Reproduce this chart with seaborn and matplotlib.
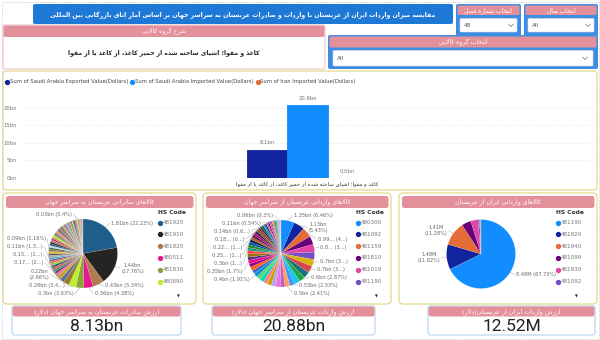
import numpy as np
import pandas as pd
import matplotlib
matplotlib.use("Agg")
import matplotlib.pyplot as plt
import seaborn as sns
from matplotlib.patches import FancyBboxPatch, Rectangle
from matplotlib.lines import Line2D
from matplotlib.ticker import FuncFormatter

# ---------------- data ----------------
title_text = "مقایسه میزان واردات ایران از عربستان با واردات و صادرات عربستان به سراسر جهان بر اساس آمار اتاق بازرگانی بین المللی"
slicer_season_title = "انتخاب شماره فصل"
slicer_season_value = "48"
slicer_year_title = "انتخاب سال"
slicer_year_value = "All"
desc_title = "شرح گروه کالایی"
desc_text = "کاغذ و مقوا؛ اشیای ساخته شده از خمیر کاغذ، از کاغذ یا از مقوا"
group_title = "انتخاب گروه کالایی"
group_value = "All"

bar_category = "کاغذ و مقوا؛ اشیای ساخته شده از خمیر کاغذ، از کاغذ یا از مقوا"
bar_series = ["Sum of Saudi Arabia Exported Value(Dollars)",
              "Sum of Saudi Arabia Imported Value(Dollars)",
              "Sum of Iran Imported Value(Dollars)"]
bar_values_bn = [8.13, 20.88, 0.0125]
bar_colors = ["#12239E", "#118DFF", "#E66C37"]
bar_yticks = [0, 5, 10, 15, 20]

pie1_title = "کالاهای صادراتی عربستان به سراسر جهان"
pie1_values = [1.81, 1.44, 0.43, 0.36, 0.30, 0.28, 0.22, 0.17, 0.15, 0.11,
               0.09, 0.088, 0.087, 0.086, 0.085, 0.084, 0.082, 0.08, 0.08, 0.08,
               0.078, 0.076, 0.075, 0.075, 0.074, 0.07, 0.07, 0.07, 0.065, 0.065,
               0.06, 0.06, 0.06, 0.06, 0.055, 0.055, 0.055, 0.05, 0.05, 0.05,
               0.05, 0.048, 0.046, 0.045, 0.044, 0.042, 0.04, 0.04, 0.038, 0.036,
               0.035, 0.034, 0.033, 0.032, 0.03, 0.028, 0.025, 0.022, 0.02, 0.018,
               0.015, 0.012, 0.01, 0.008, 0.005]
pie1_labels = ["1.81bn (22.23%)", "1.44bn\n(17.76%)", "0.43bn (5.34%)", "0.36bn (4.38%)",
               "0.3bn (3.63%)", "0.28bn (3.4...)", "0.22bn\n(2.66%)", "0.17... (2...)",
               "0.15... (1...)", "0.11bn (1.3...)",
               "0.09bn (1.16%)", "", "", "", "", "", "", "", "", "",
               "", "", "", "", "", "", "", "", "", "",
               "", "", "", "", "", "", "", "", "", "",
               "", "", "", "", "", "", "", "", "", "",
               "", "", "", "", "0.03bn (0.4%)", "", "", "", "", "",
               "", "", "", "", ""]
pie1_codes = ["481920", "481910", "481820", "480511", "481830", "480890"]
pie1_palette = ["#1F5D8C", "#252423", "#B07C4F", "#E6178F", "#8AA33B", "#B9EF2B",
                "#9B7B2F", "#5B6F99", "#C9A227", "#E86FA8", "#6E3B5E", "#3F8F6F",
                "#D9534F", "#2C4F7C", "#A8C545", "#E07B39", "#7D4FA0", "#4FB3BF",
                "#A9A9A9", "#555555", "#F0C419", "#8D6E63", "#3C6E47", "#D1D1D1"]

pie2_title = "کالاهای وارداتی عربستان از سراسر جهان"
pie2_values = [1.35, 1.13, 0.99, 0.85, 0.80, 0.75, 0.70, 0.70, 0.65, 0.60,
               0.55, 0.53, 0.50, 0.48, 0.46, 0.45, 0.44, 0.43, 0.42, 0.41,
               0.40, 0.38, 0.37, 0.36, 0.35, 0.34, 0.33, 0.32, 0.31, 0.30,
               0.29, 0.28, 0.27, 0.26, 0.25, 0.24, 0.23, 0.22, 0.21, 0.20,
               0.19, 0.18, 0.17, 0.16, 0.15, 0.14, 0.13, 0.12, 0.11, 0.10,
               0.09, 0.08, 0.07, 0.06, 0.05, 0.04, 0.03, 0.02, 0.01]
pie2_labels = ["1.35bn (6.46%)", "1.13bn\n(5.43%)", "0.99... (4...)", "", "0.8... (3...)",
               "", "0.7bn (3...)", "0.7bn (3...)", "", "0.6bn (2.87%)",
               "", "0.53bn (2.53%)", "0.5bn (2.41%)", "", "", "", "", "", "", "",
               "0.4bn (1.91%)", "", "", "", "0.35bn (1.7%)", "", "", "", "", "0.3bn (1...)",
               "", "", "", "", "0.25... (1...)", "", "", "0.22... (1...)", "", "",
               "", "0.18... (0...)", "", "", "", "0.14bn (0.6...)", "", "", "0.11bn (0.54%)", "",
               "", "", "", "0.06bn (0.3%)", "", "", "", "", ""]
pie2_codes = ["480300", "481092", "481159", "481810", "481019", "481190"]

pie3_title = "کالاهای وارداتی ایران از عربستان"
pie3_values = [8.48, 1.48, 1.41, 0.55, 0.42, 0.10, 0.05, 0.02, 0.01]
pie3_labels = ["8.48M (67.73%)", "1.48M\n(11.82%)", "1.41M\n(11.28%)", "", "", "", "", "", ""]
pie3_codes = ["481190", "481920", "481940", "481099", "481930", "481092"]

pbi_palette = ["#118DFF", "#12239E", "#E66C37", "#6B007B", "#E044A7", "#744EC2",
               "#D9B300", "#D64550", "#197278", "#1AAB40", "#15C6F4", "#4092FF",
               "#FFA058", "#BE5DC9", "#F472D0", "#B5A1FF", "#C4A200", "#FF8080",
               "#00DBBC", "#5BD667", "#0091D5", "#4668C5", "#FF6300", "#99008A",
               "#EC008C", "#533285", "#99700A", "#FF4141", "#1F9A85", "#25891C",
               "#0057A2", "#002050", "#C94F0F", "#450F54", "#B60064", "#34124F",
               "#6A5A29", "#BA141A", "#0C3D37", "#0B511F"]

kpi_titles = ["ارزش صادرات عربستان به سراسر جهان (دلار)",
              "ارزش واردات عربستان از سراسر جهان (دلار)",
              "ارزش واردات ایران از عربستان(دلار)"]
kpi_values = ["8.13bn", "20.88bn", "12.52M"]

# ---------------- Arabic shaping (contextual forms + RTL order) ----------------
_F = {
    "ء": ("\uFE80", None, None, None),
    "آ": ("\uFE81", "\uFE82", None, None),
    "أ": ("\uFE83", "\uFE84", None, None),
    "ؤ": ("\uFE85", "\uFE86", None, None),
    "إ": ("\uFE87", "\uFE88", None, None),
    "ئ": ("\uFE89", "\uFE8A", "\uFE8B", "\uFE8C"),
    "ا": ("\uFE8D", "\uFE8E", None, None),
    "ب": ("\uFE8F", "\uFE90", "\uFE91", "\uFE92"),
    "ة": ("\uFE93", "\uFE94", None, None),
    "ت": ("\uFE95", "\uFE96", "\uFE97", "\uFE98"),
    "ث": ("\uFE99", "\uFE9A", "\uFE9B", "\uFE9C"),
    "ج": ("\uFE9D", "\uFE9E", "\uFE9F", "\uFEA0"),
    "ح": ("\uFEA1", "\uFEA2", "\uFEA3", "\uFEA4"),
    "خ": ("\uFEA5", "\uFEA6", "\uFEA7", "\uFEA8"),
    "د": ("\uFEA9", "\uFEAA", None, None),
    "ذ": ("\uFEAB", "\uFEAC", None, None),
    "ر": ("\uFEAD", "\uFEAE", None, None),
    "ز": ("\uFEAF", "\uFEB0", None, None),
    "س": ("\uFEB1", "\uFEB2", "\uFEB3", "\uFEB4"),
    "ش": ("\uFEB5", "\uFEB6", "\uFEB7", "\uFEB8"),
    "ص": ("\uFEB9", "\uFEBA", "\uFEBB", "\uFEBC"),
    "ض": ("\uFEBD", "\uFEBE", "\uFEBF", "\uFEC0"),
    "ط": ("\uFEC1", "\uFEC2", "\uFEC3", "\uFEC4"),
    "ظ": ("\uFEC5", "\uFEC6", "\uFEC7", "\uFEC8"),
    "ع": ("\uFEC9", "\uFECA", "\uFECB", "\uFECC"),
    "غ": ("\uFECD", "\uFECE", "\uFECF", "\uFED0"),
    "ف": ("\uFED1", "\uFED2", "\uFED3", "\uFED4"),
    "ق": ("\uFED5", "\uFED6", "\uFED7", "\uFED8"),
    "ك": ("\uFED9", "\uFEDA", "\uFEDB", "\uFEDC"),
    "ل": ("\uFEDD", "\uFEDE", "\uFEDF", "\uFEE0"),
    "م": ("\uFEE1", "\uFEE2", "\uFEE3", "\uFEE4"),
    "ن": ("\uFEE5", "\uFEE6", "\uFEE7", "\uFEE8"),
    "ه": ("\uFEE9", "\uFEEA", "\uFEEB", "\uFEEC"),
    "و": ("\uFEED", "\uFEEE", None, None),
    "ى": ("\uFEEF", "\uFEF0", None, None),
    "ي": ("\uFEF1", "\uFEF2", "\uFEF3", "\uFEF4"),
    "پ": ("\uFB56", "\uFB57", "\uFB58", "\uFB59"),
    "چ": ("\uFB7A", "\uFB7B", "\uFB7C", "\uFB7D"),
    "ژ": ("\uFB8A", "\uFB8B", None, None),
    "ک": ("\uFB8E", "\uFB8F", "\uFB90", "\uFB91"),
    "گ": ("\uFB92", "\uFB93", "\uFB94", "\uFB95"),
    "ی": ("\uFBFC", "\uFBFD", "\uFBFE", "\uFBFF"),
}
_LAM_ALEF = {"ا": ("\uFEFB", "\uFEFC"), "آ": ("\uFEF5", "\uFEF6"),
             "أ": ("\uFEF7", "\uFEF8"), "إ": ("\uFEF9", "\uFEFA")}


def ar(s):
    def dual(c):
        return c in _F and _F[c][2] is not None
    out = []
    n = len(s)
    i = 0
    while i < n:
        c = s[i]
        prev = s[i - 1] if i > 0 else None
        jp = prev is not None and dual(prev)
        if c == "ل" and i + 1 < n and s[i + 1] in _LAM_ALEF:
            out.append(_LAM_ALEF[s[i + 1]][1 if jp else 0])
            i += 2
            continue
        if c not in _F:
            out.append(c)
            i += 1
            continue
        nxt = s[i + 1] if i + 1 < n else None
        jn = dual(c) and nxt is not None and nxt in _F
        iso, fin, ini, med = _F[c]
        out.append(med if (jp and jn) else fin if jp else ini if jn else iso)
        i += 1
    mirror = {"(": ")", ")": "("}
    return "".join(mirror.get(ch, ch) for ch in reversed(out))


# ---------------- figure ----------------
sns.set_theme(style="white")
plt.rcParams["font.family"] = ["DejaVu Sans"]

W, H = 600, 340
fig = plt.figure(figsize=(6, 3.4), dpi=100)
fig.patch.set_facecolor("white")
bg = fig.add_axes([0, 0, 1, 1])
bg.set_xlim(0, W)
bg.set_ylim(0, H)
bg.axis("off")


def Y(py):
    return H - py


def rbox(x0, y0, x1, y1, fc, ec="none", lw=0.8, r=2.5, z=1, ls="-"):
    bg.add_patch(FancyBboxPatch((x0, Y(y1)), x1 - x0, y1 - y0,
                                boxstyle=f"round,pad=0,rounding_size={r}",
                                fc=fc, ec=ec, lw=lw, zorder=z, ls=ls))


def txt(x, y, s, **kw):
    kw.setdefault("ha", "center")
    kw.setdefault("va", "center")
    kw.setdefault("zorder", 5)
    bg.text(x, Y(y), s, **kw)


def chevron(x, y):
    bg.plot([x - 2.5, x, x + 2.5], [Y(y - 1.3), Y(y + 1.3), Y(y - 1.3)],
            color="#777777", lw=0.5, zorder=6)


PINK = "#E4909A"
BLUE = "#3D8EE3"
YEL = "#E3D88C"

# outer dotted border
bg.add_patch(Rectangle((1.5, 1.5), W - 3, H - 3, fill=False, ec="#BBBBBB", lw=0.6, ls=":"))

# title
rbox(33, 4, 453, 24, "#1E78D6", r=2)
txt(243, 14, ar(title_text), color="white", fontsize=4.5, weight="bold")

# season / year slicers
for (x0, x1, t, v) in [(456, 521, slicer_season_title, slicer_season_value),
                       (524, 598, slicer_year_title, slicer_year_value)]:
    rbox(x0, 4, x1, 36, BLUE, r=2)
    rbox(x0 + 1.5, 5.5, x1 - 1.5, 15, PINK, r=1.5, z=2)
    txt((x0 + x1) / 2, 10.3, ar(t), color="white", fontsize=4.2)
    rbox(x0 + 4, 18.5, x1 - 4, 32, "white", ec="#DDDDDD", lw=0.4, r=1, z=2)
    txt(x0 + 8, 25.3, v, color="#555555", fontsize=4.2, ha="left")
    chevron(x1 - 10, 25.3)

# description box
rbox(3, 25, 325, 69, "white", ec="#E8B4BA", lw=0.6, r=2)
rbox(3.5, 25.5, 324.5, 37, PINK, r=2, z=2)
txt(164, 31.3, ar(desc_title), color="white", fontsize=4.4)
txt(164, 52.5, ar(desc_text), color="#222222", fontsize=4.4, weight="bold")

# group slicer
rbox(328, 35, 598, 69, BLUE, r=2)
rbox(329.5, 36.5, 596.5, 47.5, PINK, r=1.5, z=2)
txt(463, 42, ar(group_title), color="white", fontsize=4.4)
rbox(333, 50.5, 593, 66, "white", ec="#DDDDDD", lw=0.4, r=1, z=2)
txt(337, 58.3, group_value, color="#555555", fontsize=4.2, ha="left")
chevron(585, 58.3)

# bar panel
rbox(3, 71, 597, 190, "white", ec=YEL, lw=0.9, r=3)

# ---------------- bar chart (seaborn) ----------------
bar_df = pd.DataFrame({"category": [bar_category] * len(bar_series),
                       "series": bar_series,
                       "value": bar_values_bn})
bx0, bx1, by0, by1 = 25, 590, 95, 178
bax = fig.add_axes([bx0 / W, 1 - by1 / H, (bx1 - bx0) / W, (by1 - by0) / H])
bax.set_facecolor("none")
sns.barplot(data=bar_df, x="category", y="value", hue="series", hue_order=bar_series,
            palette=bar_colors, errorbar=None, width=0.8, saturation=1,
            ax=bax, legend=False, zorder=3)
for cont, col in zip(bax.containers, bar_colors):
    for p in cont:
        p.set_edgecolor(col)
        p.set_linewidth(0.6)
    bax.bar_label(cont, labels=[f"{p.get_height():.1f}bn" for p in cont],
                  fontsize=3.8, color="#777777", padding=3)
bax.set_xlim(-1.88, 1.88)
bax.set_ylim(0, 23.7)
bax.set_yticks(bar_yticks)
bax.yaxis.set_major_formatter(FuncFormatter(lambda v, _: f"{v:.0f}bn"))
bax.tick_params(axis="y", labelsize=3.8, labelcolor="#777777", length=0, pad=6)
bax.tick_params(axis="x", labelsize=3.9, labelcolor="#333333", length=0, pad=3)
bax.set_xticks([0])
bax.set_xticklabels([ar(bar_category)])
bax.set_xlabel("")
bax.set_ylabel("")
bax.grid(axis="y", color="#D8D8D8", lw=0.4, ls=":")
bax.set_axisbelow(True)
for s in bax.spines.values():
    s.set_visible(False)

handles = [Line2D([], [], marker="o", ls="", ms=2.8, color=c) for c in bar_colors]
leg = bax.legend(handles, bar_series, loc="center left", ncol=3,
                 bbox_to_anchor=(5 / W, 1 - 82 / H), bbox_transform=fig.transFigure,
                 frameon=False, fontsize=3.75, handletextpad=0.1, columnspacing=0.4,
                 handlelength=0.8, borderpad=0, borderaxespad=0)
for t in leg.get_texts():
    t.set_color("#444444")


# ---------------- pies ----------------
def draw_pie(values, colors, labels, cx, cy, r):
    wedges, _ = bg.pie(values, colors=colors, startangle=90, counterclock=False,
                       center=(cx, Y(cy)), radius=r, frame=True,
                       wedgeprops=dict(linewidth=0.08, edgecolor="white", zorder=3))
    items = []
    for w, lab in zip(wedges, labels):
        if not lab:
            continue
        a = np.deg2rad((w.theta1 + w.theta2) / 2)
        ex, ey = cx + r * np.cos(a), cy - r * np.sin(a)
        side = 1 if np.cos(a) >= 0 else -1
        nl = lab.count("\n") + 1
        items.append(dict(ex=ex, ey=ey, ty=cy - 1.15 * r * np.sin(a), side=side,
                          lab=lab, h=7.5 * nl + 0.5))
    top, bottom = cy - r - 11, cy + r + 6
    for side in (1, -1):
        its = sorted([d for d in items if d["side"] == side], key=lambda d: d["ty"])
        if not its:
            continue
        its[0]["ty"] = max(its[0]["ty"], top)
        for k in range(1, len(its)):
            lim = its[k - 1]["ty"] + (its[k - 1]["h"] + its[k]["h"]) / 2
            its[k]["ty"] = max(its[k]["ty"], lim)
        if its[-1]["ty"] > bottom:
            its[-1]["ty"] = bottom
            for k in range(len(its) - 1, 0, -1):
                lim = its[k]["ty"] - (its[k - 1]["h"] + its[k]["h"]) / 2
                its[k - 1]["ty"] = min(its[k - 1]["ty"], lim)
        for d in its:
            dy = d["ty"] - cy
            dx = np.sqrt(max(r * r - dy * dy, 0.0))
            dx = max(dx, abs(d["ex"] - cx))
            lx = cx + side * (dx + 5)
            bg.plot([d["ex"], lx], [Y(d["ey"]), Y(d["ty"])], color="#999999", lw=0.3, zorder=4)
            txt(lx + side * 1.2, d["ty"], d["lab"], fontsize=3.6, color="#666666",
                ha="left" if side > 0 else "right", multialignment="center")


def pie_legend(x, codes, colors):
    txt(x, 213, "HS Code", fontsize=4.3, weight="bold", color="#333333", ha="left")
    for k, (c, col) in enumerate(zip(codes, colors)):
        y = 222.5 + k * 11.8
        bg.plot(x + 2.2, Y(y), "o", ms=2.8, color=col, zorder=5)
        txt(x + 5, y, c, fontsize=4.1, color="#777777", ha="left")
    txt(x + 20, 296, "▼", fontsize=2.6, color="#222222")


panels = [(3, 196), (203, 391), (399, 597)]
pie_titles = [pie1_title, pie2_title, pie3_title]
for (x0, x1), t in zip(panels, pie_titles):
    rbox(x0, 193, x1, 304, "white", ec=YEL, lw=0.9, r=4)
    rbox(x0 + 3, 196, x1 - 2.5, 208, PINK, r=2.5, z=2)
    txt((x0 + x1) / 2, 202, ar(t), color="white", fontsize=4.4)

pie1_colors = [pie1_palette[i % len(pie1_palette)] for i in range(len(pie1_values))]
pie2_colors = [pbi_palette[i % len(pbi_palette)] for i in range(len(pie2_values))]
pie3_colors = pbi_palette[:len(pie3_values)]

draw_pie(pie1_values, pie1_colors, pie1_labels, 83, 253.5, 34.5)
draw_pie(pie2_values, pie2_colors, pie2_labels, 281, 253.5, 33.5)
draw_pie(pie3_values, pie3_colors, pie3_labels, 481, 254, 34.5)
pie_legend(158, pie1_codes, pie1_colors[:6])
pie_legend(356, pie2_codes, pie2_colors[:6])
pie_legend(556, pie3_codes, pie3_colors[:6])

# ---------------- KPI cards ----------------
cards = [(12, 181), (212, 375), (428, 595)]
for (x0, x1), t, v in zip(cards, kpi_titles, kpi_values):
    rbox(x0, 306, x1, 335, "white", ec="#A9CBEA", lw=0.7, r=2.5)
    rbox(x0 + 0.5, 306.5, x1 - 0.5, 316.5, PINK, r=2.5, z=2)
    txt((x0 + x1) / 2, 311.5, ar(t), color="white", fontsize=4.6)
    txt((x0 + x1) / 2, 326.5, v, color="#222222", fontsize=12.5, family="Roboto")

bg.set_xlim(0, W)
bg.set_ylim(0, H)
bg.set_aspect("auto")
fig.savefig("out.png", dpi=100, facecolor="white")
